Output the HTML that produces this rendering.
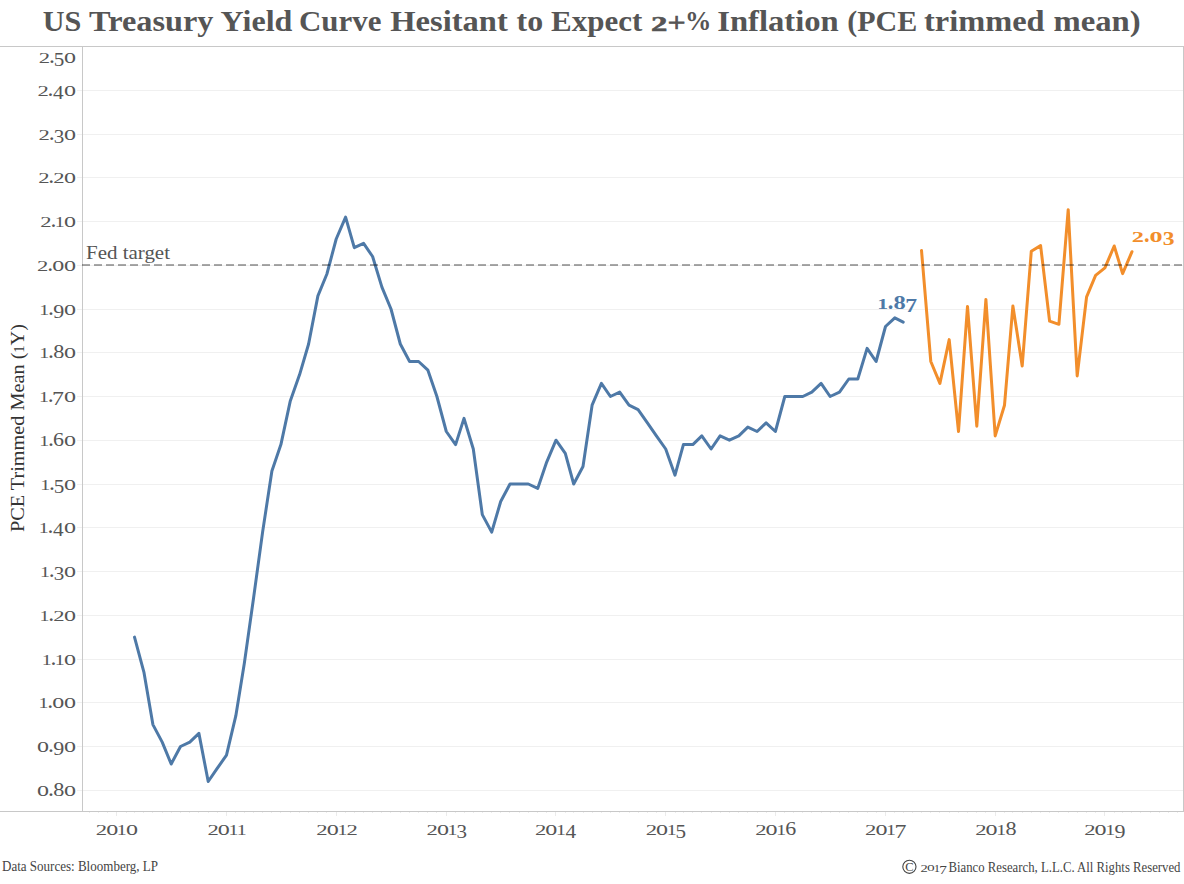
<!DOCTYPE html>
<html><head><meta charset="utf-8"><style>
html,body{margin:0;padding:0;background:#fff;width:1184px;height:884px;overflow:hidden}
svg{display:block}
text{font-family:"Liberation Serif",serif}
</style></head><body>
<svg width="1184" height="884" viewBox="0 0 1184 884">
<rect width="1184" height="884" fill="#fff"/>
<text x="42.80" y="31" font-size="29" font-weight="bold" fill="#555555" textLength="38.60" lengthAdjust="spacingAndGlyphs">US</text><text x="89.00" y="31" font-size="29" font-weight="bold" fill="#555555" textLength="124.40" lengthAdjust="spacingAndGlyphs">Treasury</text><text x="220.60" y="31" font-size="29" font-weight="bold" fill="#555555" textLength="71.80" lengthAdjust="spacingAndGlyphs">Yield</text><text x="299.00" y="31" font-size="29" font-weight="bold" fill="#555555" textLength="82.40" lengthAdjust="spacingAndGlyphs">Curve</text><text x="390.20" y="31" font-size="29" font-weight="bold" fill="#555555" textLength="117.60" lengthAdjust="spacingAndGlyphs">Hesitant</text><text x="516.60" y="31" font-size="29" font-weight="bold" fill="#555555" textLength="26.60" lengthAdjust="spacingAndGlyphs">to</text><text x="551.00" y="31" font-size="29" font-weight="bold" fill="#555555" textLength="91.20" lengthAdjust="spacingAndGlyphs">Expect</text><text x="717.20" y="31" font-size="29" font-weight="bold" fill="#555555" textLength="121.60" lengthAdjust="spacingAndGlyphs">Inflation</text><text x="847.20" y="31" font-size="29" font-weight="bold" fill="#555555" textLength="70.00" lengthAdjust="spacingAndGlyphs">(PCE</text><text x="924.00" y="31" font-size="29" font-weight="bold" fill="#555555" textLength="120.60" lengthAdjust="spacingAndGlyphs">trimmed</text><text x="1053.40" y="31" font-size="29" font-weight="bold" fill="#555555" textLength="87.20" lengthAdjust="spacingAndGlyphs">mean)</text><text transform="matrix(0.3277,0,0,0.2145,651.02,30.80)" font-size="100" font-weight="bold" fill="#555555" stroke="#555555" stroke-width="2.5">2</text><text transform="matrix(0.3138,0,0,0.2834,667.74,32.41)" font-size="100" fill="#555555" stroke="#555555" stroke-width="3">+</text><text transform="matrix(0.2638,0,0,0.2757,684.90,30.34)" font-size="100" font-weight="bold" fill="#555555">%</text>
<rect x="77" y="90" width="1106" height="1" fill="#f0f0f0"/><rect x="77" y="134" width="1106" height="1" fill="#f0f0f0"/><rect x="77" y="177" width="1106" height="1" fill="#f0f0f0"/><rect x="77" y="221" width="1106" height="1" fill="#f0f0f0"/><rect x="77" y="265" width="1106" height="1" fill="#f0f0f0"/><rect x="77" y="309" width="1106" height="1" fill="#f0f0f0"/><rect x="77" y="352" width="1106" height="1" fill="#f0f0f0"/><rect x="77" y="396" width="1106" height="1" fill="#f0f0f0"/><rect x="77" y="440" width="1106" height="1" fill="#f0f0f0"/><rect x="77" y="484" width="1106" height="1" fill="#f0f0f0"/><rect x="77" y="527" width="1106" height="1" fill="#f0f0f0"/><rect x="77" y="571" width="1106" height="1" fill="#f0f0f0"/><rect x="77" y="615" width="1106" height="1" fill="#f0f0f0"/><rect x="77" y="659" width="1106" height="1" fill="#f0f0f0"/><rect x="77" y="702" width="1106" height="1" fill="#f0f0f0"/><rect x="77" y="746" width="1106" height="1" fill="#f0f0f0"/><rect x="77" y="790" width="1106" height="1" fill="#f0f0f0"/>
<rect x="0" y="46" width="1184" height="1" fill="#c8c8c8"/>
<rect x="0" y="811" width="1184" height="1" fill="#c8c8c8"/>
<rect x="82" y="46" width="1" height="766" fill="#c8c8c8"/>
<rect x="1183" y="46" width="1" height="766" fill="#c8c8c8"/>
<rect x="89" y="812" width="1" height="1" fill="#ececec"/><rect x="98" y="812" width="1" height="1" fill="#ececec"/><rect x="107" y="812" width="1" height="1" fill="#ececec"/><rect x="116" y="812" width="1" height="4" fill="#ebebeb"/><rect x="126" y="812" width="1" height="1" fill="#ececec"/><rect x="134" y="812" width="1" height="1" fill="#ececec"/><rect x="143" y="812" width="1" height="1" fill="#ececec"/><rect x="152" y="812" width="1" height="1" fill="#ececec"/><rect x="162" y="812" width="1" height="1" fill="#ececec"/><rect x="171" y="812" width="1" height="1" fill="#ececec"/><rect x="180" y="812" width="1" height="1" fill="#ececec"/><rect x="189" y="812" width="1" height="1" fill="#ececec"/><rect x="198" y="812" width="1" height="1" fill="#ececec"/><rect x="208" y="812" width="1" height="1" fill="#ececec"/><rect x="217" y="812" width="1" height="1" fill="#ececec"/><rect x="226" y="812" width="1" height="4" fill="#ebebeb"/><rect x="235" y="812" width="1" height="1" fill="#ececec"/><rect x="244" y="812" width="1" height="1" fill="#ececec"/><rect x="253" y="812" width="1" height="1" fill="#ececec"/><rect x="262" y="812" width="1" height="1" fill="#ececec"/><rect x="271" y="812" width="1" height="1" fill="#ececec"/><rect x="280" y="812" width="1" height="1" fill="#ececec"/><rect x="290" y="812" width="1" height="1" fill="#ececec"/><rect x="299" y="812" width="1" height="1" fill="#ececec"/><rect x="308" y="812" width="1" height="1" fill="#ececec"/><rect x="317" y="812" width="1" height="1" fill="#ececec"/><rect x="326" y="812" width="1" height="1" fill="#ececec"/><rect x="336" y="812" width="1" height="4" fill="#ebebeb"/><rect x="345" y="812" width="1" height="1" fill="#ececec"/><rect x="354" y="812" width="1" height="1" fill="#ececec"/><rect x="363" y="812" width="1" height="1" fill="#ececec"/><rect x="372" y="812" width="1" height="1" fill="#ececec"/><rect x="381" y="812" width="1" height="1" fill="#ececec"/><rect x="390" y="812" width="1" height="1" fill="#ececec"/><rect x="400" y="812" width="1" height="1" fill="#ececec"/><rect x="409" y="812" width="1" height="1" fill="#ececec"/><rect x="418" y="812" width="1" height="1" fill="#ececec"/><rect x="427" y="812" width="1" height="1" fill="#ececec"/><rect x="436" y="812" width="1" height="1" fill="#ececec"/><rect x="446" y="812" width="1" height="4" fill="#ebebeb"/><rect x="455" y="812" width="1" height="1" fill="#ececec"/><rect x="464" y="812" width="1" height="1" fill="#ececec"/><rect x="473" y="812" width="1" height="1" fill="#ececec"/><rect x="482" y="812" width="1" height="1" fill="#ececec"/><rect x="491" y="812" width="1" height="1" fill="#ececec"/><rect x="500" y="812" width="1" height="1" fill="#ececec"/><rect x="509" y="812" width="1" height="1" fill="#ececec"/><rect x="519" y="812" width="1" height="1" fill="#ececec"/><rect x="528" y="812" width="1" height="1" fill="#ececec"/><rect x="537" y="812" width="1" height="1" fill="#ececec"/><rect x="546" y="812" width="1" height="1" fill="#ececec"/><rect x="555" y="812" width="1" height="4" fill="#ebebeb"/><rect x="565" y="812" width="1" height="1" fill="#ececec"/><rect x="573" y="812" width="1" height="1" fill="#ececec"/><rect x="583" y="812" width="1" height="1" fill="#ececec"/><rect x="592" y="812" width="1" height="1" fill="#ececec"/><rect x="601" y="812" width="1" height="1" fill="#ececec"/><rect x="610" y="812" width="1" height="1" fill="#ececec"/><rect x="619" y="812" width="1" height="1" fill="#ececec"/><rect x="629" y="812" width="1" height="1" fill="#ececec"/><rect x="638" y="812" width="1" height="1" fill="#ececec"/><rect x="647" y="812" width="1" height="1" fill="#ececec"/><rect x="656" y="812" width="1" height="1" fill="#ececec"/><rect x="665" y="812" width="1" height="4" fill="#ebebeb"/><rect x="675" y="812" width="1" height="1" fill="#ececec"/><rect x="683" y="812" width="1" height="1" fill="#ececec"/><rect x="692" y="812" width="1" height="1" fill="#ececec"/><rect x="701" y="812" width="1" height="1" fill="#ececec"/><rect x="711" y="812" width="1" height="1" fill="#ececec"/><rect x="720" y="812" width="1" height="1" fill="#ececec"/><rect x="729" y="812" width="1" height="1" fill="#ececec"/><rect x="738" y="812" width="1" height="1" fill="#ececec"/><rect x="747" y="812" width="1" height="1" fill="#ececec"/><rect x="757" y="812" width="1" height="1" fill="#ececec"/><rect x="766" y="812" width="1" height="1" fill="#ececec"/><rect x="775" y="812" width="1" height="4" fill="#ebebeb"/><rect x="784" y="812" width="1" height="1" fill="#ececec"/><rect x="793" y="812" width="1" height="1" fill="#ececec"/><rect x="802" y="812" width="1" height="1" fill="#ececec"/><rect x="811" y="812" width="1" height="1" fill="#ececec"/><rect x="821" y="812" width="1" height="1" fill="#ececec"/><rect x="830" y="812" width="1" height="1" fill="#ececec"/><rect x="839" y="812" width="1" height="1" fill="#ececec"/><rect x="848" y="812" width="1" height="1" fill="#ececec"/><rect x="857" y="812" width="1" height="1" fill="#ececec"/><rect x="867" y="812" width="1" height="1" fill="#ececec"/><rect x="876" y="812" width="1" height="1" fill="#ececec"/><rect x="885" y="812" width="1" height="4" fill="#ebebeb"/><rect x="894" y="812" width="1" height="1" fill="#ececec"/><rect x="903" y="812" width="1" height="1" fill="#ececec"/><rect x="912" y="812" width="1" height="1" fill="#ececec"/><rect x="921" y="812" width="1" height="1" fill="#ececec"/><rect x="930" y="812" width="1" height="1" fill="#ececec"/><rect x="939" y="812" width="1" height="1" fill="#ececec"/><rect x="949" y="812" width="1" height="1" fill="#ececec"/><rect x="958" y="812" width="1" height="1" fill="#ececec"/><rect x="967" y="812" width="1" height="1" fill="#ececec"/><rect x="976" y="812" width="1" height="1" fill="#ececec"/><rect x="985" y="812" width="1" height="1" fill="#ececec"/><rect x="995" y="812" width="1" height="4" fill="#ebebeb"/><rect x="1004" y="812" width="1" height="1" fill="#ececec"/><rect x="1012" y="812" width="1" height="1" fill="#ececec"/><rect x="1022" y="812" width="1" height="1" fill="#ececec"/><rect x="1031" y="812" width="1" height="1" fill="#ececec"/><rect x="1040" y="812" width="1" height="1" fill="#ececec"/><rect x="1049" y="812" width="1" height="1" fill="#ececec"/><rect x="1058" y="812" width="1" height="1" fill="#ececec"/><rect x="1068" y="812" width="1" height="1" fill="#ececec"/><rect x="1077" y="812" width="1" height="1" fill="#ececec"/><rect x="1086" y="812" width="1" height="1" fill="#ececec"/><rect x="1095" y="812" width="1" height="1" fill="#ececec"/><rect x="1104" y="812" width="1" height="4" fill="#ebebeb"/><rect x="1114" y="812" width="1" height="1" fill="#ececec"/><rect x="1122" y="812" width="1" height="1" fill="#ececec"/><rect x="1131" y="812" width="1" height="1" fill="#ececec"/><rect x="1140" y="812" width="1" height="1" fill="#ececec"/><rect x="1150" y="812" width="1" height="1" fill="#ececec"/><rect x="1159" y="812" width="1" height="1" fill="#ececec"/><rect x="1168" y="812" width="1" height="1" fill="#ececec"/><rect x="1177" y="812" width="1" height="1" fill="#ececec"/>
<g font-size="16" fill="#555555"><text transform="matrix(0.2270,0,0,0.1510,38.80,63.00)" font-size="100" fill="#555555">2</text><text transform="matrix(0.2370,0,0,0.2370,48.94,62.66)" font-size="100" fill="#555555">.</text><text transform="matrix(0.2110,0,0,0.1956,53.67,65.81)" font-size="100" fill="#555555">5</text><text transform="matrix(0.2407,0,0,0.2079,64.08,62.80)" font-size="100" fill="#555555">o</text><text transform="matrix(0.2270,0,0,0.1510,37.40,96.00)" font-size="100" fill="#555555">2</text><text transform="matrix(0.2370,0,0,0.2370,47.54,95.66)" font-size="100" fill="#555555">.</text><text transform="matrix(0.2130,0,0,0.1975,53.08,99.00)" font-size="100" fill="#555555">4</text><text transform="matrix(0.2407,0,0,0.2079,64.08,95.80)" font-size="100" fill="#555555">o</text><text transform="matrix(0.2270,0,0,0.1510,38.60,140.00)" font-size="100" fill="#555555">2</text><text transform="matrix(0.2370,0,0,0.2370,48.74,139.66)" font-size="100" fill="#555555">.</text><text transform="matrix(0.2106,0,0,0.1935,53.69,142.81)" font-size="100" fill="#555555">3</text><text transform="matrix(0.2407,0,0,0.2079,64.08,139.80)" font-size="100" fill="#555555">o</text><text transform="matrix(0.2270,0,0,0.1510,38.20,183.00)" font-size="100" fill="#555555">2</text><text transform="matrix(0.2370,0,0,0.2370,48.34,182.66)" font-size="100" fill="#555555">.</text><text transform="matrix(0.2270,0,0,0.1510,53.30,183.00)" font-size="100" fill="#555555">2</text><text transform="matrix(0.2407,0,0,0.2079,64.08,182.80)" font-size="100" fill="#555555">o</text><text transform="matrix(0.2270,0,0,0.1510,40.30,227.00)" font-size="100" fill="#555555">2</text><text transform="matrix(0.2370,0,0,0.2370,50.44,226.66)" font-size="100" fill="#555555">.</text><text transform="matrix(0.1988,0,0,0.1515,54.65,227.00)" font-size="100" fill="#555555">1</text><text transform="matrix(0.2407,0,0,0.2079,64.08,226.80)" font-size="100" fill="#555555">o</text><text transform="matrix(0.2270,0,0,0.1510,37.10,271.00)" font-size="100" fill="#555555">2</text><text transform="matrix(0.2370,0,0,0.2370,47.24,270.66)" font-size="100" fill="#555555">.</text><text transform="matrix(0.2407,0,0,0.2079,52.28,270.80)" font-size="100" fill="#555555">o</text><text transform="matrix(0.2407,0,0,0.2079,64.08,270.80)" font-size="100" fill="#555555">o</text><text transform="matrix(0.1988,0,0,0.1515,39.25,315.00)" font-size="100" fill="#555555">1</text><text transform="matrix(0.2370,0,0,0.2370,48.04,314.66)" font-size="100" fill="#555555">.</text><text transform="matrix(0.2203,0,0,0.1935,53.29,317.81)" font-size="100" fill="#555555">9</text><text transform="matrix(0.2407,0,0,0.2079,64.08,314.80)" font-size="100" fill="#555555">o</text><text transform="matrix(0.1988,0,0,0.1515,39.25,358.00)" font-size="100" fill="#555555">1</text><text transform="matrix(0.2370,0,0,0.2370,48.04,357.66)" font-size="100" fill="#555555">.</text><text transform="matrix(0.2218,0,0,0.1971,53.16,357.81)" font-size="100" fill="#555555">8</text><text transform="matrix(0.2407,0,0,0.2079,64.08,357.80)" font-size="100" fill="#555555">o</text><text transform="matrix(0.1988,0,0,0.1515,38.95,402.00)" font-size="100" fill="#555555">1</text><text transform="matrix(0.2370,0,0,0.2370,47.74,401.66)" font-size="100" fill="#555555">.</text><text transform="matrix(0.2393,0,0,0.1985,52.12,405.00)" font-size="100" fill="#555555">7</text><text transform="matrix(0.2407,0,0,0.2079,64.08,401.80)" font-size="100" fill="#555555">o</text><text transform="matrix(0.1988,0,0,0.1515,39.25,446.00)" font-size="100" fill="#555555">1</text><text transform="matrix(0.2370,0,0,0.2370,48.04,445.66)" font-size="100" fill="#555555">.</text><text transform="matrix(0.2200,0,0,0.1980,53.05,445.81)" font-size="100" fill="#555555">6</text><text transform="matrix(0.2407,0,0,0.2079,64.08,445.80)" font-size="100" fill="#555555">o</text><text transform="matrix(0.1988,0,0,0.1515,40.15,490.00)" font-size="100" fill="#555555">1</text><text transform="matrix(0.2370,0,0,0.2370,48.94,489.66)" font-size="100" fill="#555555">.</text><text transform="matrix(0.2110,0,0,0.1956,53.67,492.81)" font-size="100" fill="#555555">5</text><text transform="matrix(0.2407,0,0,0.2079,64.08,489.80)" font-size="100" fill="#555555">o</text><text transform="matrix(0.1988,0,0,0.1515,38.75,533.00)" font-size="100" fill="#555555">1</text><text transform="matrix(0.2370,0,0,0.2370,47.54,532.66)" font-size="100" fill="#555555">.</text><text transform="matrix(0.2130,0,0,0.1975,53.08,536.00)" font-size="100" fill="#555555">4</text><text transform="matrix(0.2407,0,0,0.2079,64.08,532.80)" font-size="100" fill="#555555">o</text><text transform="matrix(0.1988,0,0,0.1515,39.95,577.00)" font-size="100" fill="#555555">1</text><text transform="matrix(0.2370,0,0,0.2370,48.74,576.66)" font-size="100" fill="#555555">.</text><text transform="matrix(0.2106,0,0,0.1935,53.69,579.81)" font-size="100" fill="#555555">3</text><text transform="matrix(0.2407,0,0,0.2079,64.08,576.80)" font-size="100" fill="#555555">o</text><text transform="matrix(0.1988,0,0,0.1515,39.55,621.00)" font-size="100" fill="#555555">1</text><text transform="matrix(0.2370,0,0,0.2370,48.34,620.66)" font-size="100" fill="#555555">.</text><text transform="matrix(0.2270,0,0,0.1510,53.30,621.00)" font-size="100" fill="#555555">2</text><text transform="matrix(0.2407,0,0,0.2079,64.08,620.80)" font-size="100" fill="#555555">o</text><text transform="matrix(0.1988,0,0,0.1515,41.65,665.00)" font-size="100" fill="#555555">1</text><text transform="matrix(0.2370,0,0,0.2370,50.44,664.66)" font-size="100" fill="#555555">.</text><text transform="matrix(0.1988,0,0,0.1515,54.65,665.00)" font-size="100" fill="#555555">1</text><text transform="matrix(0.2407,0,0,0.2079,64.08,664.80)" font-size="100" fill="#555555">o</text><text transform="matrix(0.1988,0,0,0.1515,38.45,708.00)" font-size="100" fill="#555555">1</text><text transform="matrix(0.2370,0,0,0.2370,47.24,707.66)" font-size="100" fill="#555555">.</text><text transform="matrix(0.2407,0,0,0.2079,52.28,707.80)" font-size="100" fill="#555555">o</text><text transform="matrix(0.2407,0,0,0.2079,64.08,707.80)" font-size="100" fill="#555555">o</text><text transform="matrix(0.2407,0,0,0.2079,36.88,751.80)" font-size="100" fill="#555555">o</text><text transform="matrix(0.2370,0,0,0.2370,48.04,751.66)" font-size="100" fill="#555555">.</text><text transform="matrix(0.2203,0,0,0.1935,53.29,754.81)" font-size="100" fill="#555555">9</text><text transform="matrix(0.2407,0,0,0.2079,64.08,751.80)" font-size="100" fill="#555555">o</text><text transform="matrix(0.2407,0,0,0.2079,36.88,795.80)" font-size="100" fill="#555555">o</text><text transform="matrix(0.2370,0,0,0.2370,48.04,795.66)" font-size="100" fill="#555555">.</text><text transform="matrix(0.2218,0,0,0.1971,53.16,795.81)" font-size="100" fill="#555555">8</text><text transform="matrix(0.2407,0,0,0.2079,64.08,795.80)" font-size="100" fill="#555555">o</text></g>
<g font-size="16" fill="#555555"><text transform="matrix(0.2270,0,0,0.1510,95.78,835.00)" font-size="100" fill="#555555">2</text><text transform="matrix(0.2407,0,0,0.2079,106.21,834.80)" font-size="100" fill="#555555">o</text><text transform="matrix(0.1988,0,0,0.1515,116.83,835.00)" font-size="100" fill="#555555">1</text><text transform="matrix(0.2407,0,0,0.2079,125.91,834.80)" font-size="100" fill="#555555">o</text><text transform="matrix(0.2270,0,0,0.1510,207.38,835.00)" font-size="100" fill="#555555">2</text><text transform="matrix(0.2407,0,0,0.2079,217.81,834.80)" font-size="100" fill="#555555">o</text><text transform="matrix(0.1988,0,0,0.1515,228.43,835.00)" font-size="100" fill="#555555">1</text><text transform="matrix(0.1988,0,0,0.1515,236.68,835.00)" font-size="100" fill="#555555">1</text><text transform="matrix(0.2270,0,0,0.1510,316.33,835.00)" font-size="100" fill="#555555">2</text><text transform="matrix(0.2407,0,0,0.2079,326.76,834.80)" font-size="100" fill="#555555">o</text><text transform="matrix(0.1988,0,0,0.1515,337.38,835.00)" font-size="100" fill="#555555">1</text><text transform="matrix(0.2270,0,0,0.1510,346.38,835.00)" font-size="100" fill="#555555">2</text><text transform="matrix(0.2270,0,0,0.1510,426.53,835.00)" font-size="100" fill="#555555">2</text><text transform="matrix(0.2407,0,0,0.2079,436.96,834.80)" font-size="100" fill="#555555">o</text><text transform="matrix(0.1988,0,0,0.1515,447.58,835.00)" font-size="100" fill="#555555">1</text><text transform="matrix(0.2106,0,0,0.1935,456.57,837.81)" font-size="100" fill="#555555">3</text><text transform="matrix(0.2270,0,0,0.1510,534.93,835.00)" font-size="100" fill="#555555">2</text><text transform="matrix(0.2407,0,0,0.2079,545.36,834.80)" font-size="100" fill="#555555">o</text><text transform="matrix(0.1988,0,0,0.1515,555.98,835.00)" font-size="100" fill="#555555">1</text><text transform="matrix(0.2130,0,0,0.1975,565.56,838.00)" font-size="100" fill="#555555">4</text><text transform="matrix(0.2270,0,0,0.1510,645.63,835.00)" font-size="100" fill="#555555">2</text><text transform="matrix(0.2407,0,0,0.2079,656.06,834.80)" font-size="100" fill="#555555">o</text><text transform="matrix(0.1988,0,0,0.1515,666.68,835.00)" font-size="100" fill="#555555">1</text><text transform="matrix(0.2110,0,0,0.1956,675.45,837.81)" font-size="100" fill="#555555">5</text><text transform="matrix(0.2270,0,0,0.1510,755.18,835.00)" font-size="100" fill="#555555">2</text><text transform="matrix(0.2407,0,0,0.2079,765.61,834.80)" font-size="100" fill="#555555">o</text><text transform="matrix(0.1988,0,0,0.1515,776.23,835.00)" font-size="100" fill="#555555">1</text><text transform="matrix(0.2200,0,0,0.1980,785.28,834.81)" font-size="100" fill="#555555">6</text><text transform="matrix(0.2270,0,0,0.1510,865.03,835.00)" font-size="100" fill="#555555">2</text><text transform="matrix(0.2407,0,0,0.2079,875.46,834.80)" font-size="100" fill="#555555">o</text><text transform="matrix(0.1988,0,0,0.1515,886.08,835.00)" font-size="100" fill="#555555">1</text><text transform="matrix(0.2393,0,0,0.1985,894.50,838.00)" font-size="100" fill="#555555">7</text><text transform="matrix(0.2270,0,0,0.1510,975.18,835.00)" font-size="100" fill="#555555">2</text><text transform="matrix(0.2407,0,0,0.2079,985.61,834.80)" font-size="100" fill="#555555">o</text><text transform="matrix(0.1988,0,0,0.1515,996.23,835.00)" font-size="100" fill="#555555">1</text><text transform="matrix(0.2218,0,0,0.1971,1005.38,834.81)" font-size="100" fill="#555555">8</text><text transform="matrix(0.2270,0,0,0.1510,1084.18,835.00)" font-size="100" fill="#555555">2</text><text transform="matrix(0.2407,0,0,0.2079,1094.61,834.80)" font-size="100" fill="#555555">o</text><text transform="matrix(0.1988,0,0,0.1515,1105.23,835.00)" font-size="100" fill="#555555">1</text><text transform="matrix(0.2203,0,0,0.1935,1114.52,837.81)" font-size="100" fill="#555555">9</text></g>
<text transform="translate(24,532) rotate(-90)" x="0" y="0" font-size="19.5" fill="#333333" textLength="208" lengthAdjust="spacingAndGlyphs">PCE Trimmed Mean (<tspan font-size="14">1</tspan>Y)</text>
<text x="86" y="259" font-size="18" fill="#555555" textLength="84" lengthAdjust="spacingAndGlyphs">Fed target</text>
<polyline points="134.5,637.1 143.9,672.1 152.9,724.6 162.2,742.1 171.2,764.0 180.5,746.5 189.8,742.1 198.9,733.4 208.2,781.5 217.2,768.4 226.5,755.2 235.8,715.9 244.3,663.4 253.6,597.8 262.6,532.1 271.9,470.9 280.9,444.6 290.3,400.9 299.6,374.6 308.6,344.0 317.9,295.9 326.9,274.0 336.2,239.0 345.6,217.1 354.3,247.7 363.6,243.4 372.6,256.5 381.9,287.1 391.0,309.0 400.3,344.0 409.6,361.5 418.6,361.5 427.9,370.2 436.9,396.5 446.3,431.5 455.6,444.6 464.0,418.4 473.3,449.0 482.3,514.6 491.7,532.1 500.7,501.5 510.0,484.0 519.3,484.0 528.3,484.0 537.7,488.4 546.7,462.1 556.0,440.2 565.3,453.4 573.7,484.0 583.0,466.5 592.1,405.2 601.4,383.4 610.4,396.5 619.7,392.1 629.0,405.2 638.1,409.6 647.4,422.8 656.4,435.9 665.7,449.0 675.0,475.2 683.4,444.6 692.8,444.6 701.8,435.9 711.1,449.0 720.1,435.9 729.4,440.2 738.8,435.9 747.8,427.1 757.1,431.5 766.1,422.8 775.4,431.5 784.8,396.5 793.5,396.5 802.8,396.5 811.8,392.1 821.1,383.4 830.1,396.5 839.5,392.1 848.8,379.0 857.8,379.0 867.1,348.4 876.1,361.5 885.5,326.5 894.8,317.8 903.2,322.1" fill="none" stroke="#4e79a7" stroke-width="3" stroke-linejoin="round" stroke-linecap="round"/>
<polyline points="921.5,250.4 930.8,361.5 939.9,383.4 949.2,339.6 958.5,431.5 967.5,306.4 976.8,426.2 985.9,299.4 995.2,435.9 1004.5,405.2 1012.9,305.9 1022.2,365.9 1031.3,251.2 1040.6,245.6 1049.6,321.2 1058.9,324.3 1068.2,209.7 1077.2,375.9 1086.6,296.8 1095.6,275.3 1104.9,267.9 1114.2,246.0 1122.6,273.6 1132.0,251.7" fill="none" stroke="#f28e2b" stroke-width="3" stroke-linejoin="round" stroke-linecap="round"/>
<line x1="82" y1="265" x2="1183" y2="265" stroke="#000" stroke-opacity="0.34" stroke-width="2" stroke-dasharray="8 4"/>
<text transform="matrix(0.2173,0,0,0.1515,877.26,309.00)" font-size="100" font-weight="bold" fill="#4e79a7">1</text><text transform="matrix(0.2221,0,0,0.2221,887.82,308.69)" font-size="100" font-weight="bold" fill="#4e79a7">.</text><text transform="matrix(0.2445,0,0,0.1926,893.39,308.81)" font-size="100" font-weight="bold" fill="#4e79a7">8</text><text transform="matrix(0.2366,0,0,0.1985,905.25,312.00)" font-size="100" font-weight="bold" fill="#4e79a7">7</text>
<text transform="matrix(0.2434,0,0,0.1510,1131.78,242.00)" font-size="100" font-weight="bold" fill="#f28e2b">2</text><text transform="matrix(0.2221,0,0,0.2221,1143.92,241.69)" font-size="100" font-weight="bold" fill="#f28e2b">.</text><text transform="matrix(0.2619,0,0,0.2079,1149.50,241.80)" font-size="100" font-weight="bold" fill="#f28e2b">o</text><text transform="matrix(0.2359,0,0,0.1935,1162.71,244.81)" font-size="100" font-weight="bold" fill="#f28e2b">3</text>
<text x="2" y="871" font-size="14" fill="#444444" textLength="156" lengthAdjust="spacingAndGlyphs">Data Sources: Bloomberg, LP</text>
<circle cx="909.4" cy="866.8" r="6.6" fill="none" stroke="#444444" stroke-width="1.1"/>
<text x="909.5" y="871.3" font-size="12.5" fill="#444444" text-anchor="middle">C</text>
<text transform="matrix(0.1453,0,0,0.0967,920.46,871.60)" font-size="100" fill="#444444">2</text><text transform="matrix(0.1540,0,0,0.1331,927.11,871.47)" font-size="100" fill="#444444">o</text><text transform="matrix(0.1273,0,0,0.0969,933.87,871.60)" font-size="100" fill="#444444">1</text><text transform="matrix(0.1532,0,0,0.1271,939.23,873.52)" font-size="100" fill="#444444">7</text><text x="948.5" y="872" font-size="14" fill="#444444" textLength="232" lengthAdjust="spacingAndGlyphs">Bianco Research, L.L.C. All Rights Reserved</text>
</svg>
</body></html>
